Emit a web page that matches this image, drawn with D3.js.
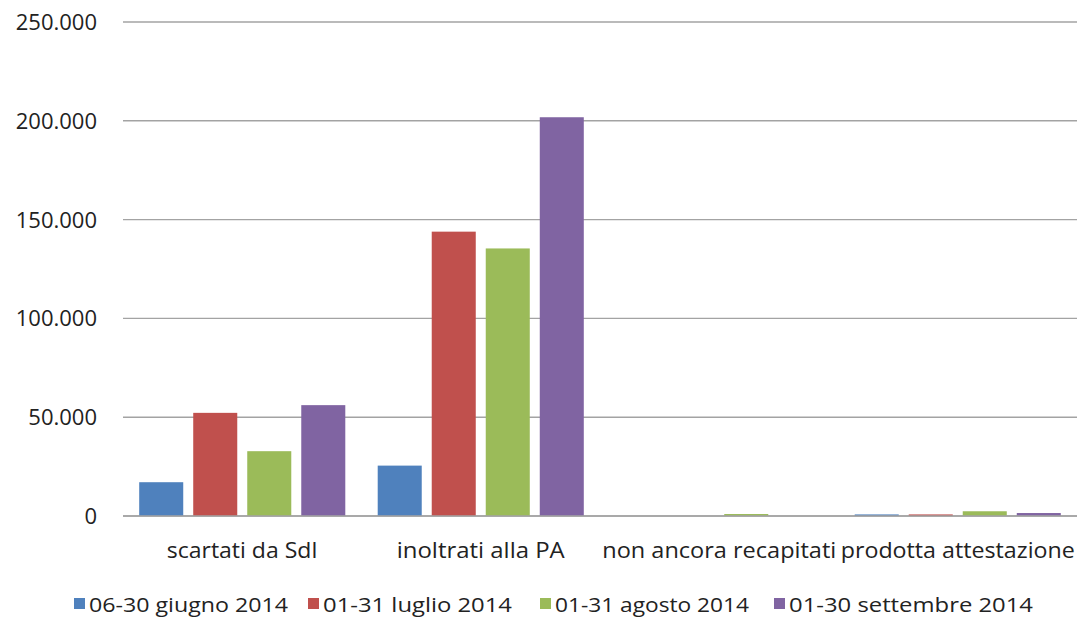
<!DOCTYPE html>
<html>
<head>
<meta charset="utf-8">
<script src="https://cdn.jsdelivr.net/npm/d3@7"></script>
<style>
html,body{margin:0;padding:0;background:#fff;}
svg text{font-family:"Open Sans","DejaVu Sans",sans-serif;fill:#222;}
</style>
</head>
<body>
<svg id="chart" width="1078" height="619"></svg>
<script>
const categories = ["scartati da SdI", "inoltrati alla PA", "non ancora recapitati", "prodotta attestazione"];
const seriesNames = ["06-30 giugno 2014", "01-31 luglio 2014", "01-31 agosto 2014", "01-30 settembre 2014"];
const giugno = [17100, 25500, 0, 800];
const luglio = [52200, 143900, 0, 800];
const agosto = [32800, 135400, 1000, 2400];
const settembre = [56100, 201800, 0, 1500];
const yTicks = [0, 50000, 100000, 150000, 200000, 250000];
const colors = ["#4F81BD", "#C0504D", "#9BBB59", "#8064A2"];

const seriesValues = [giugno, luglio, agosto, settembre];

(function () {
const svg = d3.select("#chart");
const mLeft = 123, mRight = 1077, mTop = 22, mBottom = 516;

const y = d3.scaleLinear().domain([0, 250000]).range([mBottom, mTop]);
const x0 = d3.scaleBand().domain(categories).range([mLeft, mRight]).paddingInner(0).paddingOuter(0);
const x1 = d3.scaleBand().domain(seriesNames).range([0, x0.bandwidth()]).paddingInner(0.185).paddingOuter(0.3);
const color = d3.scaleOrdinal().domain(seriesNames).range(colors);

const fmt = v => d3.format(",")(v).replace(/,/g, ".");

// gridlines
svg.append("g").selectAll("line").data(yTicks).join("line")
  .attr("x1", mLeft).attr("x2", mRight)
  .attr("y1", d => y(d)).attr("y2", d => y(d))
  .attr("stroke", "#a3a3a3").attr("stroke-width", 1.4);

// y labels
svg.append("g").selectAll("text").data(yTicks).join("text")
  .attr("x", 97).attr("y", d => y(d))
  .attr("dy", "0.36em")
  .attr("text-anchor", "end")
  .style("font-size", "22px")
  .text(d => fmt(d));

// bars
const rows = categories.map((c, i) => ({cat: c, vals: seriesNames.map((s, j) => ({s, v: seriesValues[j][i]}))}));
const g = svg.append("g").selectAll("g").data(rows).join("g")
  .attr("transform", d => `translate(${x0(d.cat)},0)`);
g.selectAll("rect").data(d => d.vals.filter(e => e.v > 0)).join("rect")
  .attr("x", d => x1(d.s))
  .attr("width", x1.bandwidth())
  .attr("y", d => y(d.v))
  .attr("height", d => y(0) - y(d.v))
  .attr("fill", d => color(d.s));

// zero axis redraw
svg.append("line").attr("x1", mLeft).attr("x2", mRight).attr("y1", y(0)).attr("y2", y(0))
  .attr("stroke", "#a3a3a3").attr("stroke-width", 1.4);

// category labels
const catWidths = [151, 168, 234, 234];
svg.append("g").selectAll("text").data(categories).join("text")
  .attr("x", d => x0(d) + x0.bandwidth() / 2)
  .attr("y", 558)
  .attr("text-anchor", "middle")
  .style("font-size", "21px")
  .attr("textLength", (d, i) => catWidths[i])
  .attr("lengthAdjust", "spacingAndGlyphs")
  .text(d => d);

// legend
const legX = [74, 308, 540, 774];
const legW = [199, 189, 194, 244];
const lg = svg.append("g").selectAll("g").data(seriesNames).join("g")
  .attr("transform", (d, i) => `translate(${legX[i]},0)`);
lg.append("rect").attr("x", 0).attr("y", 598).attr("width", 11).attr("height", 11)
  .attr("fill", d => color(d));
lg.append("text").attr("x", 15).attr("y", 612)
  .style("font-size", "20px")
  .attr("textLength", (d, i) => legW[i])
  .attr("lengthAdjust", "spacingAndGlyphs")
  .text(d => d);
})();
</script>
</body>
</html>
